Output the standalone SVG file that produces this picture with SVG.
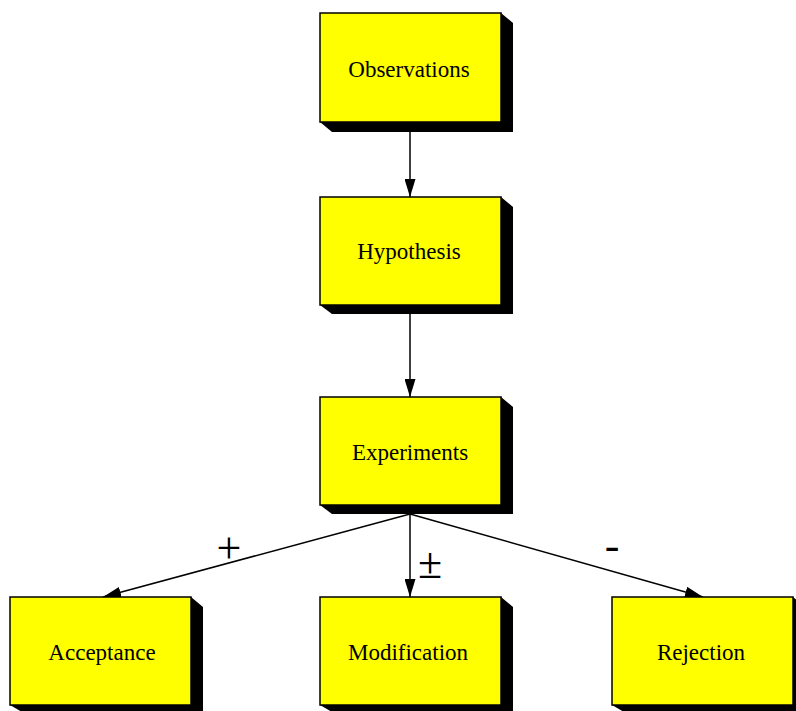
<svg xmlns="http://www.w3.org/2000/svg" width="796" height="711" viewBox="0 0 796 711">
<defs>
<style>
.box{fill:#ffff00;stroke:#000;stroke-width:1.5}
.sh{fill:#000}
.t{font-family:"Liberation Serif","Times New Roman",serif;font-size:23px;fill:#000;text-anchor:middle}
.lbl{font-family:"Liberation Serif","Times New Roman",serif;font-size:44px;fill:#000;text-anchor:middle}
.c{stroke:#000;stroke-width:1.5;fill:none;marker-end:url(#ah)}
</style>
<marker id="ah" viewBox="0 0 18 11" refX="18" refY="5.5" markerWidth="18" markerHeight="11" markerUnits="userSpaceOnUse" orient="auto">
<path d="M0,0 L18,5.5 L0,11 Z" fill="#000"/>
</marker>
</defs>
<rect width="796" height="711" fill="#fff"/>
<g id="connectors">
<line class="c" x1="410" y1="132" x2="410" y2="197"/>
<line class="c" x1="410" y1="314" x2="410" y2="397"/>
<line class="c" x1="410" y1="514" x2="103" y2="597"/>
<line class="c" x1="410" y1="514" x2="410" y2="597"/>
<line class="c" x1="410" y1="514" x2="703" y2="597"/>
<text class="lbl" x="229" y="563">+</text>
<text class="lbl" x="430" y="578">±</text>
<text class="lbl" x="612" y="560">-</text>
</g>
<g id="observations">
<polygon class="sh" points="501,13 513,23 513,132 332,132 320,122"/>
<rect class="box" x="320" y="13" width="181" height="109"/>
<text class="t" x="409" y="77">Observations</text>
</g>
<g id="hypothesis">
<polygon class="sh" points="501,197 513,207 513,314 332,314 320,305"/>
<rect class="box" x="320" y="197" width="181" height="108"/>
<text class="t" x="409" y="259">Hypothesis</text>
</g>
<g id="experiments">
<polygon class="sh" points="501,397 513,407 513,514 332,514 320,505"/>
<rect class="box" x="320" y="397" width="181" height="108"/>
<text class="t" x="410" y="460">Experiments</text>
</g>
<g id="acceptance">
<polygon class="sh" points="191,597 203,607 203,712 22,712 10,705"/>
<rect class="box" x="10" y="597" width="181" height="108"/>
<text class="t" x="102" y="660">Acceptance</text>
</g>
<g id="modification">
<polygon class="sh" points="501,597 513,607 513,712 332,712 320,705"/>
<rect class="box" x="320" y="597" width="181" height="108"/>
<text class="t" x="408" y="660">Modification</text>
</g>
<g id="rejection">
<polygon class="sh" points="793,597 805,607 805,712 624,712 612,705"/>
<rect class="box" x="612" y="597" width="181" height="108"/>
<text class="t" x="701" y="660">Rejection</text>
</g>
</svg>
